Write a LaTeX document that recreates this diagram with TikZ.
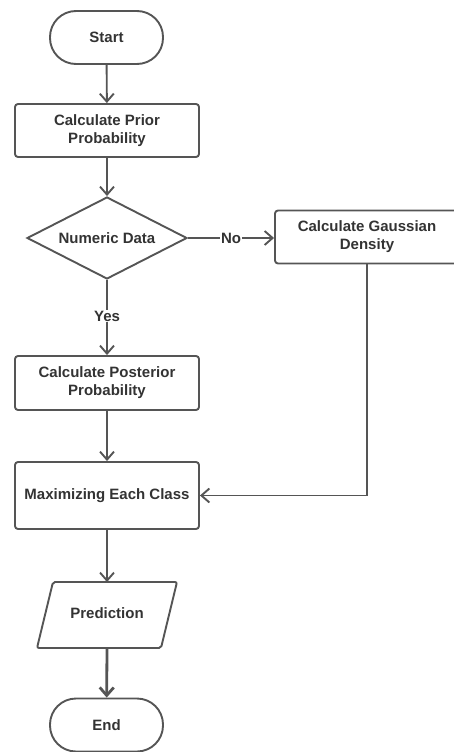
\documentclass[tikz,border=0pt]{standalone}
\usepackage{fontspec}
\setmainfont{Liberation Sans}
\usetikzlibrary{shapes.geometric,arrows.meta}
\definecolor{edge}{HTML}{555555}
\definecolor{ink}{HTML}{333333}
\tikzset{
  base/.style={draw=edge, line width=1.9pt, text=ink, font=\bfseries\fontsize{15}{18}\selectfont, align=center, inner sep=0pt},
  term/.style={base, rectangle, rounded corners=26pt, minimum width=113pt, minimum height=53pt},
  proc/.style={base, rectangle, rounded corners=3pt, minimum width=184pt},
  decis/.style={base, diamond, aspect=1.95, minimum width=160pt, minimum height=82pt},
  ioshape/.style={draw=edge, line width=1.9pt, rounded corners=2pt},
  conn/.style={draw=edge, line width=1.9pt, -{Straight Barb[length=8pt,width=14pt]}},
  lbl/.style={fill=white, text=ink, font=\bfseries\fontsize{15}{18}\selectfont, inner sep=1pt}
}
\begin{document}
\begin{tikzpicture}[x=1pt,y=-1pt]
\useasboundingbox (0,0) rectangle (454,752);
\node[term] (start) at (106.5,37.5) {Start};
\node[proc, minimum height=53pt] (prior) at (107,130.5) {Calculate Prior\\Probability};
\node[decis] (num) at (107,238) {Numeric Data};
\node[proc, minimum height=53pt] (gauss) at (367,237) {Calculate Gaussian\\Density};
\node[proc, minimum height=54pt] (post) at (107,383) {Calculate Posterior\\Probability};
\node[proc, minimum height=67pt] (max) at (107,495.5) {Maximizing Each Class};
\coordinate (predtop) at (107,582);
\coordinate (predbot) at (107,648);
\draw[ioshape] (53,582) -- (177,582) -- (161,648) -- (37,648) -- cycle;
\node[text=ink, font=\bfseries\fontsize{15}{18}\selectfont] (pred) at (107,613) {Prediction};
\node[term] (end) at (106.5,725) {End};

\draw[conn] (start) -- (prior);
\draw[conn] (prior) -- (num);
\draw[conn] (num.east) -- node[lbl] {No} (num.east -| gauss.west);
\draw[conn] (num.south) -- node[lbl, pos=0.48] {Yes} (post.north);
\draw[conn] (post) -- (max);
\draw[conn] (gauss.south) |- (max.east);
\draw[conn] (max) -- (predtop);
\draw[conn, line width=2.8pt] (predbot) -- (end);
\end{tikzpicture}
\end{document}
